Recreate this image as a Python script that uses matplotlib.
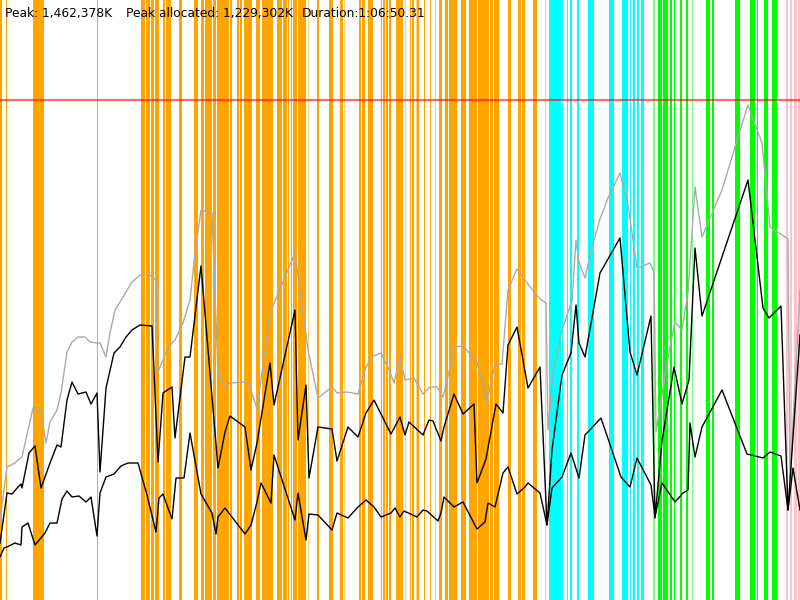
import matplotlib
matplotlib.use("Agg")
import matplotlib.pyplot as plt

# ---- time axis: seconds since start (duration ~ 4000 s) ----
# committed heap (grey line), memory units
peak_t = [0, 35, 75, 90, 110, 165, 185, 205, 230, 250, 285, 305, 335, 360, 390, 425, 450, 485, 500, 530,
          550, 575, 615, 660, 700, 750, 780, 790, 835, 860, 875, 915, 950, 975, 1005, 1060, 1090, 1125, 1150,
          1225, 1250, 1285, 1350, 1475, 1540, 1590, 1660, 1685, 1735, 1790, 1830, 1865, 1905, 1950, 1970,
          2000, 2025, 2070, 2115, 2150, 2185, 2215, 2275, 2315, 2385, 2435, 2475, 2510, 2540, 2585, 2625,
          2635, 2700, 2730, 2740, 2765, 2810, 2860, 2880, 2895, 2925, 2960, 3000, 3040, 3100, 3140, 3185,
          3250, 3270, 3280, 3340, 3375, 3410, 3440, 3475, 3510, 3610, 3675, 3740, 3810, 3850, 3940, 3950, 4000]
peak_v = [80, 133, 137, 140, 143, 192, 192, 188, 157, 178, 190, 207, 248, 258, 263, 263, 258, 257, 257, 243,
          267, 290, 303, 318, 325, 325, 320, 228, 250, 257, 260, 277, 300, 347, 390, 387, 227, 212, 217,
          218, 213, 191, 287, 347, 250, 202, 213, 207, 208, 206, 233, 244, 247, 228, 217,
          243, 220, 222, 206, 213, 213, 203, 253, 254, 238, 198, 236, 236, 310, 331, 320,
          317, 301, 297, 170, 227, 270, 299, 360, 338, 322, 353, 381, 402, 427, 395, 332,
          337, 328, 168, 243, 278, 270, 307, 413, 363, 410, 453, 495, 457, 373, 361, 120, 310]

# used heap (upper black line)
used_t = [0, 35, 60, 90, 105, 110, 145, 175, 205, 250, 285, 305, 335, 360, 390, 430, 455, 485, 500, 530,
          570, 600, 630, 660, 700, 760, 790, 815, 860, 875, 925, 950, 1005, 1090, 1125, 1150, 1225, 1255,
          1285, 1350, 1370, 1475, 1490, 1530, 1545, 1590, 1660, 1685, 1740, 1790, 1830, 1870, 1955, 2000,
          2025, 2045, 2115, 2145, 2165, 2205, 2220, 2270, 2315, 2370, 2385, 2430, 2480, 2515, 2540, 2585,
          2640, 2700, 2735, 2760, 2810, 2855, 2880, 2895, 2925, 3000, 3100, 3150, 3185, 3255, 3275, 3310,
          3370, 3410, 3445, 3475, 3510, 3740, 3815, 3845, 3905, 3940, 4000]
used_v = [57, 107, 106, 113, 116, 112, 147, 154, 112, 137, 155, 153, 200, 218, 206, 208, 196, 207, 128, 212,
          247, 253, 263, 270, 275, 274, 138, 207, 213, 162, 243, 243, 334, 132, 168, 184, 173, 130,
          157, 237, 195, 290, 160, 215, 122, 173, 171, 139, 173, 163, 187, 200, 166, 183,
          165, 178, 165, 180, 179, 159, 173, 206, 186, 196, 117, 141, 196, 187, 255, 273,
          212, 233, 75, 150, 225, 247, 295, 257, 243, 327, 362, 248, 225, 284, 82, 159,
          233, 196, 220, 352, 284, 420, 292, 282, 294, 90, 265]

# live data after collection (lower black line)
live_t = [0, 20, 35, 75, 105, 110, 140, 175, 225, 250, 285, 310, 335, 360, 395, 430, 455, 485, 500, 530,
          570, 605, 640, 690, 735, 780, 795, 815, 860, 880, 920, 950, 1005, 1060, 1080, 1090, 1125, 1225,
          1255, 1285, 1305, 1355, 1370, 1475, 1490, 1530, 1545, 1590, 1660, 1685, 1740, 1790, 1830, 1870,
          1905, 1955, 1975, 2000, 2020, 2085, 2115, 2135, 2190, 2205, 2220, 2270, 2315, 2385, 2425, 2440,
          2475, 2515, 2540, 2585, 2625, 2640, 2700, 2735, 2760, 2810, 2855, 2895, 2925, 3005, 3105, 3150,
          3185, 3255, 3275, 3310, 3375, 3415, 3440, 3450, 3475, 3510, 3610, 3735, 3815, 3850, 3905, 3940,
          3965, 4000]
live_v = [43, 52, 53, 57, 55, 73, 77, 55, 67, 77, 77, 101, 109, 103, 104, 98, 103, 64, 107, 123,
          126, 134, 137, 137, 105, 68, 102, 106, 81, 122, 122, 167, 106, 87, 66, 83, 92, 66,
          75, 98, 117, 97, 145, 80, 107, 60, 86, 85, 70, 87, 82, 93, 100, 93,
          83, 87, 92, 83, 89, 83, 90, 89, 79, 87, 103, 93, 98, 71, 78, 97,
          93, 127, 133, 106, 113, 117, 107, 75, 112, 123, 147, 122, 165, 182, 123, 113,
          142, 115, 83, 117, 98, 107, 110, 177, 143, 173, 210, 146, 142, 148, 144, 90,
          132, 90]

max_heap = 500

# ---- collection events: start time and duration (s) ----
minor_start = [0, 30, 165, 485, 705, 730, 755, 775, 815, 830, 895, 970, 1005, 1025, 1065, 1085, 1150, 1185,
               1200, 1220, 1280, 1310, 1385, 1415, 1440, 1455, 1465, 1490, 1585, 1645, 1700, 1795, 1810,
               1840, 1905, 1915, 1930, 1945, 1980, 2050, 2060, 2085, 2120, 2150, 2195, 2225, 2245, 2305,
               2345, 2390, 2450, 2470, 2540, 2590, 2610, 2665]
minor_dur = [10, 5, 55, 5, 20, 20, 15, 20, 10, 25, 15, 20, 15, 35, 15, 60, 10, 10,
             10, 40, 20, 55, 25, 20, 5, 5, 20, 40, 10, 20, 15, 10, 15,
             25, 5, 10, 10, 10, 35, 5, 10, 10, 5, 5, 15, 15, 40, 25,
             40, 55, 15, 25, 15, 15, 15, 20]
minor_faint_start = [1540, 1720, 2025, 2080, 2175]
minor_faint_dur = [5, 5, 5, 5, 5]

mixed_start = [2745, 2810, 2835, 2850, 2885, 2940, 3045, 3110, 3150, 3165, 3185, 3205]
mixed_dur = [60, 5, 5, 10, 10, 30, 25, 30, 5, 10, 10, 15]
mixed_faint_start = [2725]
mixed_faint_dur = [5]

full_start = [3290, 3315, 3350, 3370, 3400, 3430, 3530, 3560, 3675, 3750, 3785, 3820, 3860]
full_dur = [20, 25, 10, 5, 10, 10, 20, 10, 25, 25, 5, 20, 25]
full_faint_start = [3265, 3460]
full_faint_dur = [10, 5]

other_start = [3930, 3950, 3970, 3990]
other_dur = [10, 10, 15, 10]

header = ["Peak: 1,462,378K", "Peak allocated: 1,229,302K", "Duration:1:06:50.31"]

# ---- drawing ----
fig = plt.figure(figsize=(8, 6), dpi=100)
ax = fig.add_axes([0, 0, 1, 1])
ax.set_xlim(0, 4000)
ax.set_ylim(0, 600)
ax.axis("off")

def spans(starts, durs, color, alpha=1.0):
    for s, d in zip(starts, durs):
        ax.axvspan(s, s + d, color=color, alpha=alpha, lw=0, zorder=1)

spans(minor_start, minor_dur, "#FFA500")
spans(minor_faint_start, minor_faint_dur, "#FFA500", 0.5)
spans(mixed_start, mixed_dur, "#00FFFF")
spans(mixed_faint_start, mixed_faint_dur, "#00FFFF", 0.5)
spans(full_start, full_dur, "#00FF00")
spans(full_faint_start, full_faint_dur, "#00FF00", 0.5)
spans(other_start, other_dur, "#FFC0CB")

ax.axhline(max_heap, color="red", alpha=0.6, lw=1.5, zorder=2)

ax.plot(peak_t, peak_v, color="#AAAAAA", lw=1.0, zorder=3)
ax.plot(used_t, used_v, color="black", lw=1.0, zorder=4)
ax.plot(live_t, live_v, color="black", lw=1.0, zorder=4)

xs = [5, 126, 302]
for x, s in zip(xs, header):
    fig.text(x / 800, 1 - 17 / 600, s, fontsize=8.8, color="black",
             family="DejaVu Sans", va="baseline", ha="left", zorder=5)

fig.savefig("out.png", dpi=100)
